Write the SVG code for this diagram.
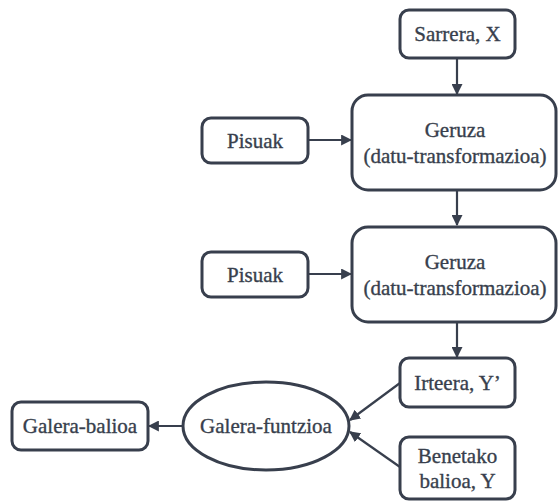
<svg xmlns="http://www.w3.org/2000/svg" width="558" height="501" viewBox="0 0 558 501">
  <style>
    .box { fill: #ffffff; stroke: #383f4d; stroke-width: 3; }
    .lbl { font-size: 21px; fill: #383f4d; stroke: #383f4d; stroke-width: 0.35; text-anchor: middle; dominant-baseline: central; }
    .edge { stroke: #383f4d; stroke-width: 2.2; fill: none; marker-end: url(#arrow); }
  </style>
  <defs>
    <marker id="arrow" viewBox="0 0 10 10" refX="9" refY="5" markerWidth="11" markerHeight="11" markerUnits="userSpaceOnUse" orient="auto">
      <path d="M0,0 L10,5 L0,10 z" fill="#383f4d"/>
    </marker>
  </defs>
  <rect width="558" height="501" fill="#ffffff"/>

  <g id="connectors">
    <line class="edge" x1="457" y1="58" x2="457" y2="94"/>
    <line class="edge" x1="308" y1="140" x2="351" y2="140"/>
    <line class="edge" x1="457" y1="190" x2="457" y2="225"/>
    <line class="edge" x1="308" y1="274" x2="351" y2="274"/>
    <line class="edge" x1="457" y1="322" x2="457" y2="357"/>
    <line class="edge" x1="400" y1="383" x2="350" y2="420"/>
    <line class="edge" x1="400" y1="467" x2="350" y2="432"/>
    <line class="edge" x1="183" y1="426" x2="149" y2="426"/>
  </g>

  <g font-family="'Liberation Serif', 'Times New Roman', serif">
    <g id="sarrera">
      <rect class="box" x="400" y="10" width="115" height="48" rx="9"/>
      <text class="lbl" x="457.5" y="34">Sarrera, X</text>
    </g>
    <g id="geruza1">
      <rect class="box" x="352" y="95" width="204" height="95" rx="16"/>
      <text class="lbl" x="455" y="130">Geruza</text>
      <text class="lbl" x="455" y="156">(datu-transformazioa)</text>
    </g>
    <g id="pisuak1">
      <rect class="box" x="202" y="118" width="106" height="45" rx="9"/>
      <text class="lbl" x="255" y="140.5">Pisuak</text>
    </g>
    <g id="geruza2">
      <rect class="box" x="352" y="227" width="204" height="95" rx="16"/>
      <text class="lbl" x="455" y="262">Geruza</text>
      <text class="lbl" x="455" y="288">(datu-transformazioa)</text>
    </g>
    <g id="pisuak2">
      <rect class="box" x="202" y="252" width="106" height="45" rx="9"/>
      <text class="lbl" x="255" y="274.5">Pisuak</text>
    </g>
    <g id="irteera">
      <rect class="box" x="400" y="358" width="115" height="49" rx="9"/>
      <text class="lbl" x="457.5" y="382.5">Irteera, Y’</text>
    </g>
    <g id="benetako">
      <rect class="box" x="400" y="437" width="115" height="62" rx="9"/>
      <text class="lbl" x="457.5" y="456">Benetako</text>
      <text class="lbl" x="457.5" y="481">balioa, Y</text>
    </g>
    <g id="galera-funtzioa">
      <ellipse class="box" cx="266" cy="426" rx="83" ry="44"/>
      <text class="lbl" x="266" y="426">Galera-funtzioa</text>
    </g>
    <g id="galera-balioa">
      <rect class="box" x="12" y="402" width="136" height="48" rx="9"/>
      <text class="lbl" x="80" y="426">Galera-balioa</text>
    </g>
  </g>
</svg>
